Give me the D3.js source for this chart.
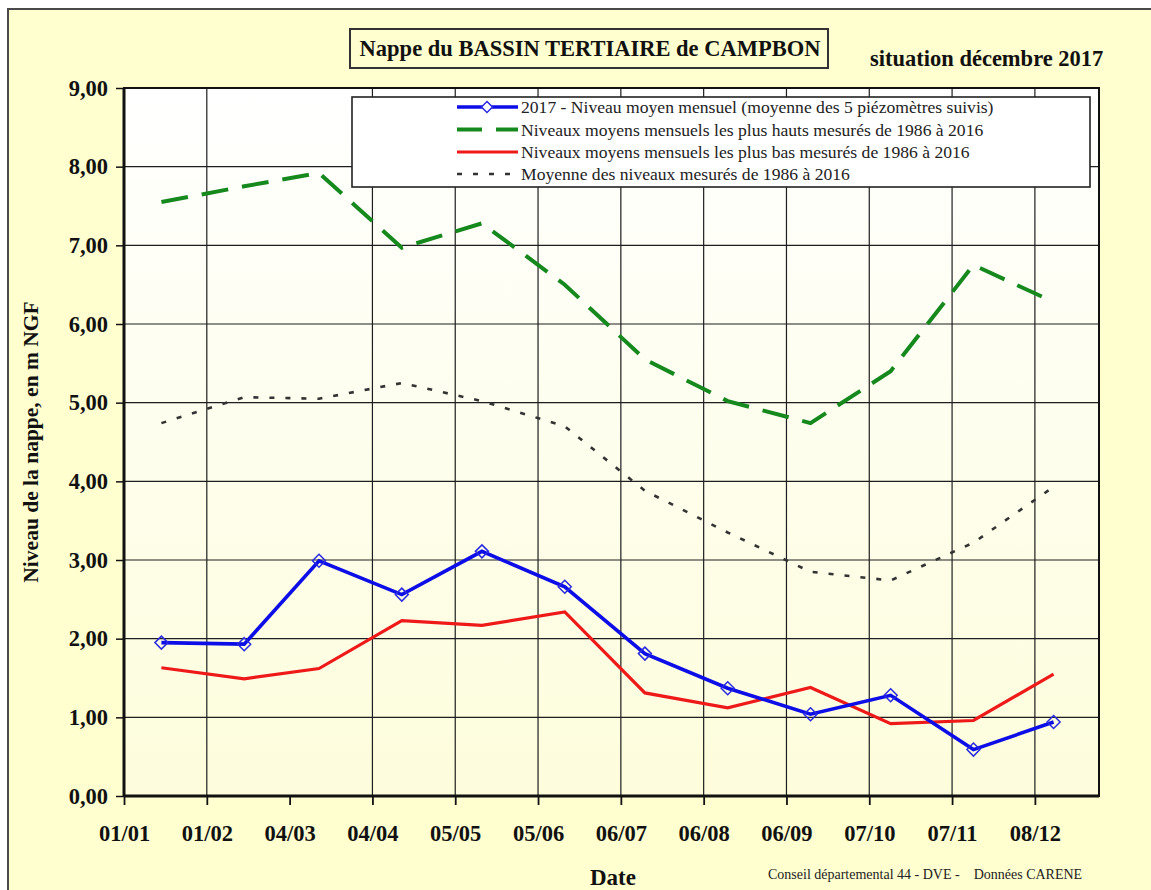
<!DOCTYPE html>
<html><head><meta charset="utf-8">
<script src="https://cdn.jsdelivr.net/npm/d3@7"></script>
<style>body{margin:0;background:#fff}svg{display:block}
svg text{font-family:"Liberation Serif","DejaVu Serif","Times New Roman",Times,serif;}
</style>
</head><body>
<script>
// ---- data ----
const monthDates = ["2017-01-15","2017-02-15","2017-03-15","2017-04-15","2017-05-15","2017-06-15","2017-07-15","2017-08-15","2017-09-15","2017-10-15","2017-11-15","2017-12-15"];
const niveau2017 = [1.95, 1.93, 2.99, 2.56, 3.11, 2.66, 1.81, 1.37, 1.04, 1.28, 0.59, 0.94];
const plusHauts  = [7.55, 7.75, 7.92, 6.97, 7.28, 6.50, 5.55, 5.02, 4.74, 5.40, 6.75, 6.28];
const plusBas    = [1.63, 1.49, 1.62, 2.23, 2.17, 2.34, 1.31, 1.12, 1.38, 0.92, 0.96, 1.55];
const moyenne    = [4.74, 5.07, 5.05, 5.25, 5.02, 4.70, 3.88, 3.35, 2.85, 2.74, 3.22, 3.93];
const tickDates  = ["2017-01-01","2017-02-01","2017-03-04","2017-04-04","2017-05-05","2017-06-05","2017-07-06","2017-08-06","2017-09-06","2017-10-07","2017-11-07","2017-12-08"];
const yTicks     = [0,1,2,3,4,5,6,7,8,9];
const seriesNames = [
  "2017 - Niveau moyen mensuel (moyenne des 5 piézomètres suivis)",
  "Niveaux moyens mensuels les plus hauts mesurés de 1986 à 2016",
  "Niveaux moyens mensuels les plus bas mesurés de 1986 à 2016",
  "Moyenne des niveaux mesurés de 1986 à 2016"
];
const titleText = "Nappe du BASSIN TERTIAIRE de CAMPBON";
const subTitle = "situation décembre 2017";
const yLabel = "Niveau de la nappe, en m NGF";
const xLabel = "Date";
const sourceText = "Conseil départemental 44 - DVE -    Données CARENE";

// ---- drawing ----
const W = 1151, H = 890;
const L = 124, R = 1099, T = 88, B = 796;
const parse = d3.utcParse("%Y-%m-%d");
const serif = '"Liberation Serif","DejaVu Serif","Times New Roman",Times,serif';

const svg = d3.select("body").append("svg").attr("width", W).attr("height", H);
const defs = svg.append("defs");
const grad = defs.append("linearGradient").attr("id","pg").attr("x1",0).attr("y1",0).attr("x2",0).attr("y2",1);
grad.append("stop").attr("offset","0%").attr("stop-color","#ffffff");
grad.append("stop").attr("offset","100%").attr("stop-color","#fdfddc");

svg.append("rect").attr("x",0).attr("y",0).attr("width",W).attr("height",H).attr("fill","#ffffff");
svg.append("rect").attr("x",8).attr("y",9).attr("width",W+20).attr("height",H+20)
  .attr("fill","#ffffd0").attr("stroke","#4a4a4a").attr("stroke-width",2);

const x = d3.scaleUtc().domain([parse("2017-01-01"), parse("2018-01-01")]).range([L, R]);
const y = d3.scaleLinear().domain([0, 9]).range([B, T]);

svg.append("rect").attr("x",L).attr("y",T).attr("width",R-L).attr("height",B-T).attr("fill","url(#pg)");

// gridlines
const grid = svg.append("g").attr("stroke","#1e1e1e").attr("stroke-width",1.2);
yTicks.forEach(v => grid.append("line").attr("x1",L).attr("x2",R).attr("y1",y(v)).attr("y2",y(v)));
tickDates.forEach((d,i) => { if (i>0 && i!==2) grid.append("line").attr("x1",x(parse(d))).attr("x2",x(parse(d))).attr("y1",T).attr("y2",B); });

// axes
const fmt = v => d3.format(".2f")(v).replace(".", ",");
const yAxis = d3.axisLeft(y).tickValues(yTicks).tickFormat(fmt).tickSize(8).tickPadding(8);
const gy = svg.append("g").attr("transform",`translate(${L},0)`).call(yAxis);
gy.attr("font-family", null).attr("font-size", null);
gy.select(".domain").remove();
gy.selectAll("line").attr("stroke","#111").attr("stroke-width",1.5);
gy.selectAll("text").style("font-family",serif).style("font-weight","bold").style("font-size","22.5px").attr("fill","#111");

const xAxis = d3.axisBottom(x).tickValues(tickDates.map(parse)).tickFormat(d3.utcFormat("%d/%m")).tickSize(9).tickPadding(20);
const gx = svg.append("g").attr("transform",`translate(0,${B})`).call(xAxis);
gx.attr("font-family", null).attr("font-size", null);
gx.select(".domain").remove();
gx.selectAll("line").attr("stroke","#111").attr("stroke-width",1.8);
gx.selectAll("text").style("font-family",serif).style("font-weight","bold").style("font-size","22.5px").attr("fill","#111");

// plot frame
svg.append("rect").attr("x",L).attr("y",T).attr("width",R-L).attr("height",B-T)
  .attr("fill","none").attr("stroke","#111").attr("stroke-width",2);
svg.append("line").attr("x1",L).attr("x2",L).attr("y1",T).attr("y2",B).attr("stroke","#111").attr("stroke-width",3);
svg.append("line").attr("x1",L).attr("x2",R).attr("y1",B).attr("y2",B).attr("stroke","#111").attr("stroke-width",3);

// series
const pts = vals => vals.map((v,i)=>[x(parse(monthDates[i])), y(v)]);
const line = d3.line();
svg.append("path").attr("d", line(pts(moyenne))).attr("fill","none").attr("stroke","#333").attr("stroke-width",2.6).attr("stroke-dasharray","5,11");
svg.append("path").attr("d", line(pts(plusHauts))).attr("fill","none").attr("stroke","#16891e").attr("stroke-width",4).attr("stroke-dasharray","27,14");
svg.append("path").attr("d", line(pts(plusBas))).attr("fill","none").attr("stroke","#ee1a1a").attr("stroke-width",3.2);
svg.append("path").attr("d", line(pts(niveau2017))).attr("fill","none").attr("stroke","#0d0de8").attr("stroke-width",3.6);
const diamond = (cx,cy,r) => `M${cx},${cy-r}L${cx+r},${cy}L${cx},${cy+r}L${cx-r},${cy}Z`;
svg.append("g").selectAll("path").data(pts(niveau2017)).join("path")
  .attr("d", d => diamond(d[0], d[1], 6.5)).attr("fill","none").attr("stroke","#2a2ae0").attr("stroke-width",1.5);

// legend
const lg = svg.append("g");
lg.append("rect").attr("x",352).attr("y",97).attr("width",738).attr("height",90).attr("fill","#ffffff").attr("stroke","#222").attr("stroke-width",1.6);
const rowsY = [107, 129.5, 152, 174];
const styles = [
  {c:"#0d0de8", w:3.6, d:null},
  {c:"#16891e", w:4, d:"25,14"},
  {c:"#ee1a1a", w:3.2, d:null},
  {c:"#333", w:2.6, d:"5,11"}
];
seriesNames.forEach((n,i) => {
  const s = styles[i];
  const ln = lg.append("line").attr("x1",457).attr("x2",518).attr("y1",rowsY[i]).attr("y2",rowsY[i]).attr("stroke",s.c).attr("stroke-width",s.w);
  if (s.d) ln.attr("stroke-dasharray", s.d);
  lg.append("text").attr("x",521).attr("y",rowsY[i]).attr("dy","0.35em").style("font-family",serif).style("font-size","17.6px").attr("fill","#222").text(n);
});
lg.append("path").attr("d", diamond(487, rowsY[0], 5.5)).attr("fill","#fff").attr("stroke","#2a2ae0").attr("stroke-width",1.5);

// titles
const bold = (sel, size) => sel.style("font-family",serif).style("font-weight","bold").style("font-size",size+"px").attr("fill","#111");
svg.append("rect").attr("x",350).attr("y",29).attr("width",478).attr("height",39).attr("fill","#ffffd0").attr("stroke","#333").attr("stroke-width",2);
bold(svg.append("text").attr("x",590).attr("y",48.5).attr("dy","0.35em").attr("text-anchor","middle"), 22.5).text(titleText);
bold(svg.append("text").attr("x",870).attr("y",58).attr("dy","0.35em"), 22.5).text(subTitle);
bold(svg.append("text").attr("transform","translate(30,442) rotate(-90)").attr("dy","0.35em").attr("text-anchor","middle"), 21.5).text(yLabel);
bold(svg.append("text").attr("x",613).attr("y",877).attr("dy","0.35em").attr("text-anchor","middle"), 23).text(xLabel);
svg.append("text").attr("x",768).attr("y",874).attr("dy","0.35em").style("font-family",serif).style("font-size","14px").attr("fill","#222").style("white-space","pre").text(sourceText);
</script>
</body></html>
